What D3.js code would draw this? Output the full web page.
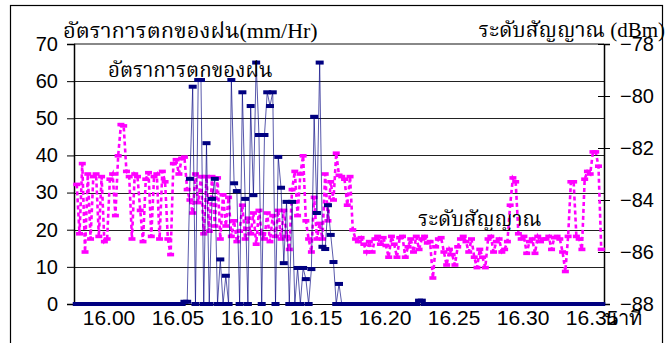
<!DOCTYPE html>
<html><head><meta charset="utf-8">
<script src="https://cdn.jsdelivr.net/npm/d3@7"></script>
<style>body{margin:0;background:#fff}svg{display:block}</style></head>
<body>
<script>
// time values (category positions) – evenly sampled every 0.002
const startTime = 15.977, timeStep = 0.002;

const rainRate = [
0,0,0,0,0,0,0,0,0,0,
0,0,0,0,0,0,0,0,0,0,
0,0,0,0,0,0,0,0,0,0,
0,0,0,0,0,0,0,0,0,0.6,
0.6,33.7,58.5,0,60.3,60.3,0,43.3,0,28.3,
33.7,0,12,0,7.6,0,60.3,32.5,30.4,0,
57,28.3,0,53.3,29.3,65,45.5,0,45.5,57,
53.3,57,0,39.6,31.3,11,27.5,0,27.5,0,
9.7,0,9.7,6.7,0,9.4,50.4,24.5,65,15.4,
14.8,26.6,18.6,11.3,0,5.4,0,0,0,0,
0,0,0,0,0,0,0,0,0,0,
0,0,0,0,0,0,0,0,0,0,
0,0,0,0,0.9,0.9,0,0,0,0,
0,0,0,0,0,0,0,0,0,0,
0,0,0,0,0,0,0,0,0,0,
0,0,0,0,0,0,0,0,0,0,
0,0,0,0,0,0,0,0,0,0,
0,0,0,0,0,0,0,0,0,0,
0,0,0,0,0,0,0,0,0,0,
0
];

const signalLevel = [
-83.4,-85.3,-82.6,-86.0,-83.0,-85.5,-83.1,-83.0,-85.4,-83.1,
-85.6,-85.5,-83.2,-83.0,-84.6,-82.3,-81.1,-81.15,-82.9,-83.1,
-85.5,-83.0,-83.1,-84.4,-85.6,-83.2,-82.95,-85.4,-83.1,-83.0,
-85.5,-82.9,-83.3,-85.5,-86.1,-82.6,-82.45,-83.0,-82.4,-82.35,
-83.6,-84.0,-84.5,-83.0,-84.1,-83.1,-85.3,-83.1,-85.2,-83.1,
-85.0,-83.15,-85.5,-83.8,-85.0,-83.9,-85.4,-84.8,-85.6,-85.2,
-84.2,-85.5,-84.7,-85.3,-84.5,-85.7,-84.4,-85.3,-85.5,-84.5,
-85.6,-84.6,-85.4,-84.4,-85.5,-84.4,-85.4,-85.9,-83.6,-82.9,
-84.6,-83.0,-82.3,-84.8,-85.5,-86.0,-83.9,-85.5,-84.9,-85.5,
-83.0,-84.8,-83.3,-84.0,-82.2,-83.05,-83.1,-83.2,-84.2,-83.1,
-85.15,-85.5,-85.6,-85.45,-85.7,-86.0,-85.6,-86.0,-85.5,-85.4,
-85.7,-85.45,-85.75,-86.2,-85.4,-85.7,-86.2,-85.45,-85.4,-86.2,
-85.8,-85.5,-86.0,-85.4,-85.9,-85.5,-85.4,-85.65,-85.6,-87.0,
-85.8,-85.5,-85.45,-86.0,-86.5,-85.9,-86.1,-86.5,-85.8,-85.5,
-85.4,-85.6,-86.0,-85.5,-86.2,-86.6,-85.9,-86.2,-86.6,-85.5,
-85.4,-86.0,-85.6,-85.5,-86.0,-85.9,-85.6,-84.2,-83.15,-83.3,
-85.3,-85.5,-85.4,-86.05,-85.6,-85.5,-86.05,-85.4,-85.6,-85.5,
-85.5,-85.4,-85.9,-85.45,-85.4,-85.5,-86.0,-86.75,-85.4,-83.3,
-83.3,-85.4,-85.5,-85.9,-83.2,-82.9,-83.0,-82.15,-82.15,-82.7,
-85.9
];

const xTickValues = [16.00,16.05,16.10,16.15,16.20,16.25,16.30,16.35];
const leftTickValues = [0,10,20,30,40,50,60,70];
const rightTickValues = [-88,-86,-84,-82,-80,-78];

const leftTitle = "อัตราการตกของฝน(mm/Hr)";
const rightTitle = "ระดับสัญญาณ (dBm)";
const rainLabel = "อัตราการตกของฝน";
const signalLabel = "ระดับสัญญาณ";
const xUnit = "นาที";

const W = 671, H = 343;
const svg = d3.select("body").append("svg").attr("width", W).attr("height", H);

const x = d3.scaleLinear().domain([15.975, 16.359]).range([74, 604]);
const yL = d3.scaleLinear().domain([0, 70]).range([304, 44]);
const yR = d3.scaleLinear().domain([-88, -78]).range([304, 44]);

const times = rainRate.map((_, i) => startTime + i * timeStep);

// outer frame
svg.append("rect").attr("x", 10.5).attr("y", 5.5).attr("width", 652).attr("height", 345)
  .attr("fill", "none").attr("stroke", "#000").attr("stroke-width", 1.2);

// gridlines
svg.append("g").selectAll("line").data(leftTickValues.filter(d => d > 0 && d < 70)).join("line")
  .attr("x1", 74).attr("x2", 604).attr("y1", d => Math.round(yL(d)) + 0.5).attr("y2", d => Math.round(yL(d)) + 0.5)
  .attr("stroke", "#222").attr("stroke-width", 1);
// plot top border
svg.append("line").attr("x1", 74).attr("x2", 604).attr("y1", 44).attr("y2", 44)
  .attr("stroke", "#888").attr("stroke-width", 2);

const sans = "Liberation Sans, Arial, sans-serif";
const serif = "Liberation Serif, 'Times New Roman', 'Noto Serif Thai', 'Noto Sans Thai', serif";

// left axis
const gL = svg.append("g").attr("transform", "translate(74,0)")
  .call(d3.axisLeft(yL).tickValues(leftTickValues).tickSize(7).tickPadding(9).tickFormat(d3.format("d")));
gL.select(".domain").attr("stroke", "#000").attr("stroke-width", 1.5);
gL.selectAll("text").attr("font-family", sans).attr("font-size", 20).attr("fill", "#000");

// right axis
const gR = svg.append("g").attr("transform", "translate(604,0)")
  .call(d3.axisRight(yR).tickValues(rightTickValues).tickSize(6).tickPadding(10).tickFormat(d3.format("d")));
gR.select(".domain").attr("stroke", "#000").attr("stroke-width", 1.5);
gR.selectAll(".tick line").attr("x1", -6);
gR.selectAll("text").attr("font-family", sans).attr("font-size", 20).attr("fill", "#000");

// x axis labels
const gX = svg.append("g").attr("transform", "translate(0,304)")
  .call(d3.axisBottom(x).tickValues(xTickValues).tickSize(0).tickPadding(6).tickFormat(d3.format(".2f")));
gX.select(".domain").attr("stroke", "#000");
gX.selectAll("text").attr("font-family", sans).attr("font-size", 21).attr("fill", "#000");

// signal series (secondary axis)
const sigLine = d3.line().x((d, i) => x(times[i])).y(d => yR(d));
svg.append("path").datum(signalLevel).attr("d", sigLine)
  .attr("fill", "none").attr("stroke", "#FF00FF").attr("stroke-width", 2.6)
  .attr("stroke-dasharray", "4,3");
svg.append("g").selectAll("rect").data(signalLevel).join("rect")
  .attr("x", (d, i) => x(times[i]) - 3.5).attr("y", d => yR(d) - 1.8)
  .attr("width", 7).attr("height", 3.6).attr("fill", "#FF00FF");

// rain series
const rainLine = d3.line().x((d, i) => x(times[i])).y(d => yL(d));
svg.append("path").datum(rainRate).attr("d", rainLine)
  .attr("fill", "none").attr("stroke", "#000080").attr("stroke-width", 1).attr("stroke-opacity", 0.65);
svg.append("g").selectAll("rect").data(rainRate).join("rect")
  .attr("x", (d, i) => x(times[i]) - 4).attr("y", d => yL(d) - 2)
  .attr("width", 8).attr("height", 4).attr("fill", "#000080");

// titles and labels
svg.append("text").attr("x", 63).attr("y", 38).attr("font-family", serif).attr("font-size", 22).text(leftTitle);
svg.append("text").attr("x", 665).attr("y", 37).attr("text-anchor", "end").attr("font-family", serif).attr("font-size", 21).text(rightTitle);
svg.append("text").attr("x", 108).attr("y", 77).attr("font-family", serif).attr("font-size", 20.5).text(rainLabel);
svg.append("text").attr("x", 418).attr("y", 226).attr("font-family", serif).attr("font-size", 20.5).text(signalLabel);
svg.append("text").attr("x", 604).attr("y", 325).attr("font-family", sans).attr("font-size", 20).text(xUnit);
</script>
</body></html>
